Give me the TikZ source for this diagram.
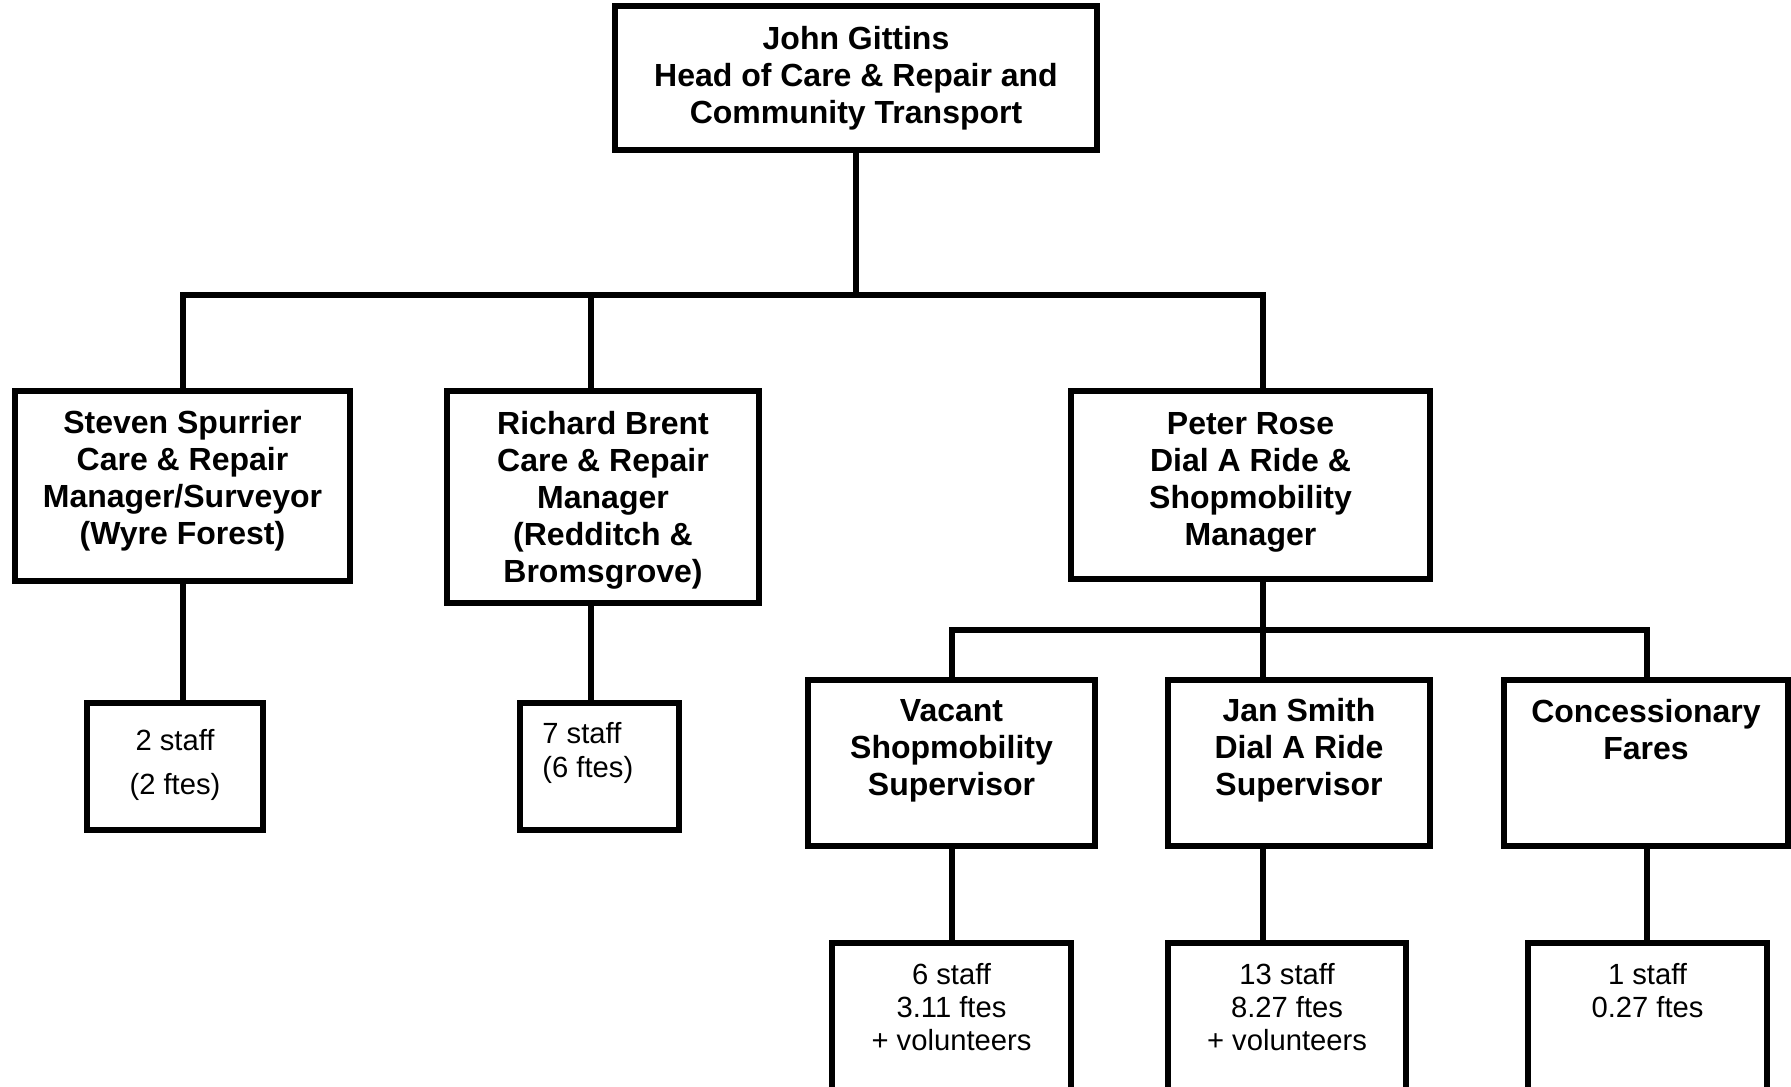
\documentclass[tikz,border=0pt]{standalone}
\usepackage{fontspec}
\setmainfont{Liberation Sans}
\begin{document}
\begin{tikzpicture}[x=0.5pt,y=-0.5pt,
  box/.style={draw, line width=3pt, inner sep=0pt, rectangle},
  sz/.style 2 args={minimum width=#1*0.5pt, minimum height=#2*0.5pt},
  conn/.style={line width=3pt},
  bt/.style={font=\bfseries\fontsize{16pt}{18.5pt}\selectfont, align=center, inner sep=0pt, anchor=north},
  rt/.style={font=\fontsize{14.6pt}{16.6pt}\selectfont, align=center, inner sep=0pt, anchor=north}]
\useasboundingbox (0,0) rectangle (1791,1086);
\fill[white] (0,0) rectangle (1791,1086);
\clip (0,0) rectangle (1791,1086);

% boxes
\node[box, sz={482}{144}] (top) at (856,78) {};
\node[box, sz={335}{190}] (steven) at (182.5,486) {};
\node[box, sz={312}{212}] (richard) at (603,497) {};
\node[box, sz={359}{188}] (peter) at (1250.5,485) {};
\node[box, sz={176}{127}] (s2) at (175,766.5) {};
\node[box, sz={159}{127}] (s7) at (599.5,766.5) {};
\node[box, sz={287}{166}] (vacant) at (951.5,763) {};
\node[box, sz={262}{166}] (jan) at (1299,763) {};
\node[box, sz={284}{166}] (conc) at (1646,763) {};
\node[box, sz={239}{187}] (s6) at (951.5,1036.5) {};
\node[box, sz={238}{187}] (s13) at (1287,1036.5) {};
\node[box, sz={239}{187}] (s1) at (1647.5,1036.5) {};

% texts
\node[bt, anchor=center] (topT) at ([yshift=0pt]top.center) {John Gittins\\Head of Care \& Repair and\\Community Transport};
\node[bt] (stevenT) at ([yshift=-11pt]steven.north) {Steven Spurrier\\Care \& Repair\\Manager/Surveyor\\(Wyre Forest)};
\node[bt] (richardT) at ([yshift=-11.3pt]richard.north) {Richard Brent\\Care \& Repair\\Manager\\(Redditch \&\\Bromsgrove)};
\node[bt] (peterT) at ([yshift=-11.8pt]peter.north) {Peter Rose\\Dial A Ride \&\\Shopmobility\\Manager};
\node[bt] (vacantT) at ([yshift=-11pt]vacant.north) {Vacant\\Shopmobility\\Supervisor};
\node[bt] (janT) at ([yshift=-10.6pt]jan.north) {Jan Smith\\Dial A Ride\\Supervisor};
\node[bt] (concT) at ([yshift=-10.8pt]conc.north) {Concessionary\\Fares};
\node[rt] (s2T) at ([yshift=-14.3pt]s2.north) {2 staff\\[5.8pt](2 ftes)};
\node[rt, align=left, anchor=north west] (s7T) at ([xshift=12.5pt,yshift=-11.2pt]s7.north west) {7 staff\\(6 ftes)};
\node[rt] (s6T) at ([yshift=-11.3pt]s6.north) {6 staff\\3.11 ftes\\+ volunteers};
\node[rt] (s13T) at ([yshift=-11.3pt]s13.north) {13 staff\\8.27 ftes\\+ volunteers};
\node[rt] (s1T) at ([yshift=-11.3pt]s1.north) {1 staff\\0.27 ftes};

% connectors
\coordinate (j1) at (856,295);
\coordinate (j1L) at (183,295);
\coordinate (j1M) at (591,295);
\coordinate (j1R) at (1263,295);
\draw[conn] (top.south) -- (j1);
\draw[conn] (steven.north -| j1L) -- (j1L) -- (j1R) -- (peter.north -| j1R);
\draw[conn] (j1M) -- (richard.north -| j1M);
\draw[conn] (steven.south -| j1L) -- (s2.north -| j1L);
\draw[conn] (richard.south -| j1M) -- (s7.north -| j1M);

\coordinate (j2) at (1263,630);
\coordinate (j2L) at (952,630);
\coordinate (j2R) at (1647,630);
\draw[conn] (peter.south -| j2) -- (j2);
\draw[conn] (vacant.north -| j2L) -- (j2L) -- (j2R) -- (conc.north -| j2R);
\draw[conn] (j2) -- (jan.north -| j2);
\draw[conn] (vacant.south -| j2L) -- (s6.north -| j2L);
\draw[conn] (jan.south -| j2) -- (s13.north -| j2);
\draw[conn] (conc.south -| j2R) -- (s1.north -| j2R);
\end{tikzpicture}
\end{document}
